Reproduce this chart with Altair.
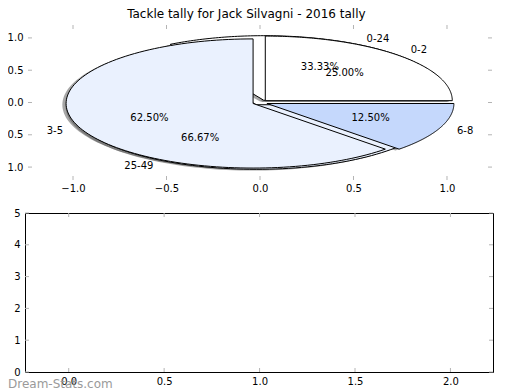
import altair as alt
import pandas as pd

TITLE = "Tackle tally for Jack Silvagni - 2016 tally"
pie1_labels = ["0-2", "3-5", "6-8"]
pie1_values = [2, 5, 1]
pie1_colors = ["#ffffff", "#eaf1fe", "#c5d8fc"]
pie2_labels = ["0-24", "25-49"]
pie2_values = [1, 2]
pie2_colors = ["#ffffff", "#eaf1fe"]
top_xticks = [-1.0, -0.5, 0.0, 0.5, 1.0]
top_yticks = [-1.0, -0.5, 0.0, 0.5, 1.0]
bottom_xticks = [0.0, 0.5, 1.0, 1.5, 2.0]
bottom_yticks = [0, 1, 2, 3, 4, 5]
WATERMARK = "Dream-Stats.com"

EXPLODE = 0.04
LABEL_R = 1.1
PCT_R = 0.6
SHADOW = 0.02
N = 120

W = 468
H1 = 155
H2 = 159
FONT = "DejaVu Sans"
TICK = "#b4b4b4"

pies = pd.DataFrame({
    "pie": [2] * len(pie2_labels) + [1] * len(pie1_labels),
    "idx": list(range(len(pie2_labels))) + list(range(len(pie1_labels))),
    "label": pie2_labels + pie1_labels,
    "value": pie2_values + pie1_values,
    "color": pie2_colors + pie1_colors,
})

xs_top = alt.Scale(domain=[-1.2567, 1.246], nice=False, zero=False)
ys_top = alt.Scale(domain=[-1.2, 1.2], nice=False, zero=False)
ax_top_x = alt.Axis(values=top_xticks, format=".1f", ticks=False, domain=False, grid=False,
                    labelPadding=3, title=None, labelFontSize=10, labelFont=FONT, labelColor="black")
ax_top_y = alt.Axis(values=top_yticks, format=".1f", ticks=False, domain=False, grid=False,
                    labelPadding=2, title=None, labelFontSize=10, labelFont=FONT, labelColor="black")


def tx(f):
    return alt.X(f, type="quantitative", scale=xs_top, axis=ax_top_x)


def ty(f):
    return alt.Y(f, type="quantitative", scale=ys_top, axis=ax_top_y)


base = alt.Chart(pies).transform_window(
    cum="sum(value)", groupby=["pie"], sort=[alt.SortField("idx", order="ascending")], frame=[None, 0]
).transform_joinaggregate(
    total="sum(value)", groupby=["pie"]
).transform_calculate(
    wkey="datum.pie + '_' + datum.idx",
    a0="2*PI*(datum.cum - datum.value)/datum.total",
    a1="2*PI*datum.cum/datum.total",
    mid="PI*(2*datum.cum - datum.value)/datum.total",
    cx=f"{EXPLODE}*cos(datum.mid)",
    cy=f"{EXPLODE}*sin(datum.mid)",
)

poly = base.transform_calculate(
    k=f"sequence(0, {N + 3})"
).transform_flatten(["k"]).transform_calculate(
    ang=f"datum.a0 + (datum.a1 - datum.a0)*(datum.k - 1)/{N}",
    edge=f"datum.k > 0 && datum.k < {N + 2}",
    px="datum.edge ? datum.cx + cos(datum.ang) : datum.cx",
    py="datum.edge ? datum.cy + sin(datum.ang) : datum.cy",
    sx=f"datum.px - {SHADOW}",
    sy=f"datum.py - {SHADOW}",
)

shadow = poly.mark_line(filled=True, color="#4d4d4d", opacity=0.5, strokeWidth=0).encode(
    x=tx("sx"), y=ty("sy"), order=alt.Order("k:Q"), detail="wkey:N"
)


def wedge_layer(p):
    return poly.transform_filter(f"datum.pie == {p}").mark_line(
        filled=True, stroke="black", strokeWidth=1, strokeJoin="miter"
    ).encode(
        x=tx("px"), y=ty("py"), order=alt.Order("k:Q"), detail="wkey:N",
        color=alt.Color("color:N", scale=None),
    )


lab = base.transform_calculate(
    lx=f"({EXPLODE} + {LABEL_R})*cos(datum.mid)",
    ly=f"({EXPLODE} + {LABEL_R})*sin(datum.mid)",
    qx=f"({EXPLODE} + {PCT_R})*cos(datum.mid)",
    qy=f"({EXPLODE} + {PCT_R})*sin(datum.mid)",
    pct="format(100*datum.value/datum.total, '.2f') + '%'",
)
lab_l = lab.transform_filter("datum.lx > 0").mark_text(
    align="left", baseline="middle", fontSize=10, font=FONT, color="black"
).encode(x=tx("lx"), y=ty("ly"), text="label:N")
lab_r = lab.transform_filter("datum.lx <= 0").mark_text(
    align="right", baseline="middle", fontSize=10, font=FONT, color="black"
).encode(x=tx("lx"), y=ty("ly"), text="label:N")
pct = lab.mark_text(
    align="center", baseline="middle", fontSize=10, font=FONT, color="black"
).encode(x=tx("qx"), y=ty("qy"), text="pct:N")

txd = alt.Chart(pd.DataFrame({"t": top_xticks}))
tyd = alt.Chart(pd.DataFrame({"t": top_yticks}))
top_ticks = [
    txd.mark_rule(color=TICK).encode(x=tx("t"), y=alt.value(0), y2=alt.value(4)),
    txd.mark_rule(color=TICK).encode(x=tx("t"), y=alt.value(H1 - 4), y2=alt.value(H1)),
    tyd.mark_rule(color=TICK).encode(y=ty("t"), x=alt.value(3), x2=alt.value(7)),
    tyd.mark_rule(color=TICK).encode(y=ty("t"), x=alt.value(W - 5), x2=alt.value(W - 1)),
]

top = alt.layer(
    shadow, wedge_layer(2), wedge_layer(1), lab_l, lab_r, pct, *top_ticks
).properties(width=W, height=H1, view=alt.ViewBackground(stroke=None))

# bottom (empty) panel
xs_b = alt.Scale(domain=[-0.229, 2.223], nice=False, zero=False)
ys_b = alt.Scale(domain=[0, 5], nice=False, zero=False)
ax_b_x = alt.Axis(values=bottom_xticks, format=".1f", ticks=False, domain=False, grid=False,
                  labelPadding=4, title=None, labelFontSize=10, labelFont=FONT, labelColor="black")
ax_b_y = alt.Axis(values=bottom_yticks, format="d", ticks=False, domain=False, grid=False,
                  labelPadding=5, title=None, labelFontSize=10, labelFont=FONT, labelColor="black")


def bx(f):
    return alt.X(f, type="quantitative", scale=xs_b, axis=ax_b_x)


def by(f):
    return alt.Y(f, type="quantitative", scale=ys_b, axis=ax_b_y)


bxd = alt.Chart(pd.DataFrame({"t": bottom_xticks}))
byd = alt.Chart(pd.DataFrame({"t": bottom_yticks}))
bottom_ticks = [
    bxd.mark_rule(color=TICK).encode(x=bx("t"), y=alt.value(0), y2=alt.value(4)),
    bxd.mark_rule(color=TICK).encode(x=bx("t"), y=alt.value(H2 - 4), y2=alt.value(H2)),
    byd.mark_rule(color=TICK).encode(y=by("t"), x=alt.value(0), x2=alt.value(4)),
    byd.mark_rule(color=TICK).encode(y=by("t"), x=alt.value(W - 4), x2=alt.value(W)),
]
wm = alt.Chart(pd.DataFrame({"w": [WATERMARK]})).mark_text(
    align="left", baseline="alphabetic", fontSize=12, font=FONT, color="#9a9a9a"
).encode(x=alt.value(-17), y=alt.value(H2 + 16), text="w:N")

bottom = alt.layer(*bottom_ticks, wm).properties(
    width=W, height=H2, view=alt.ViewBackground(stroke="black", strokeWidth=1)
)

chart = alt.vconcat(top, bottom, spacing=33, bounds="flush").properties(
    title=alt.TitleParams(TITLE, fontSize=12, font=FONT, fontWeight="normal", color="black",
                          anchor="middle", offset=4),
    padding={"left": -10, "top": -1, "right": 0, "bottom": 0},
).configure(font=FONT)

chart.save("out.html", embed_options={"renderer": "svg", "actions": False})
